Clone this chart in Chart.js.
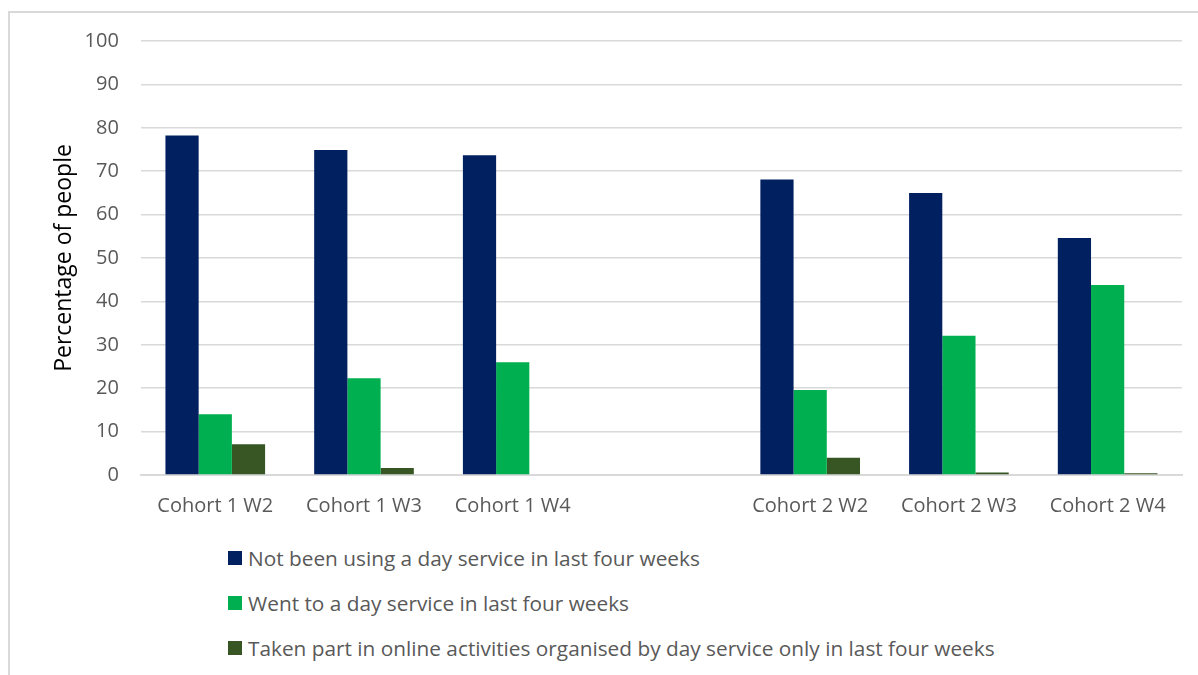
<!DOCTYPE html>
<html>
<head>
<meta charset="utf-8">
<script src="https://cdn.jsdelivr.net/npm/chart.js@4.4.1/dist/chart.umd.min.js"></script>
<style>
  html, body { margin: 0; padding: 0; background: #fff; }
  #wrap { position: relative; width: 1198px; height: 675px; overflow: hidden; }
  #frame { position: absolute; left: 8px; top: 11px; right: 0; bottom: 0;
    border-left: 2px solid #d9d9d9; border-top: 2px solid #d9d9d9; }
  #cv { position: absolute; left: 0; top: 0; }
  #legend { position: absolute; left: 228px; top: 543px; font-family: "Open Sans", sans-serif;
    font-size: 20.8px; color: #595959; }
  #legend .item { display: flex; align-items: center; height: 30px; margin-bottom: 15px; }
  #legend .box { width: 14px; height: 14px; margin-right: 6px; }
</style>
</head>
<body>
<div id="wrap">
  <div id="frame"></div>
  <canvas id="cv" width="1198" height="537"></canvas>
  <div id="legend"></div>
</div>
<script>
// categories (empty slot separates the two cohorts)
const categories = ['Cohort 1 W2', 'Cohort 1 W3', 'Cohort 1 W4', '', 'Cohort 2 W2', 'Cohort 2 W3', 'Cohort 2 W4'];

// series values, percentage of people
const notUsing = [78.2, 74.9, 73.7, null, 68.1, 65.0, 54.6];
const wentTo = [14.0, 22.3, 26.0, null, 19.6, 32.1, 43.8];
const onlineOnly = [7.1, 1.6, 0.2, null, 4.0, 0.6, 0.4];

const yTicks = [0, 10, 20, 30, 40, 50, 60, 70, 80, 90, 100];

const FONT = '"Open Sans", sans-serif';
const GREY = '#595959';

const chart = new Chart(document.getElementById('cv'), {
  type: 'bar',
  data: {
    labels: categories,
    datasets: [
      {
        label: 'Not been using a day service in last four weeks',
        data: notUsing,
        backgroundColor: '#002060',
      },
      {
        label: 'Went to a day service in last four weeks',
        data: wentTo,
        backgroundColor: '#00b050',
      },
      {
        label: 'Taken part in online activities organised by day service only in last four weeks',
        data: onlineOnly,
        backgroundColor: '#375623',
      },
    ],
  },
  options: {
    responsive: false,
    animation: false,
    layout: {
      padding: { top: 41, bottom: 8, left: 51, right: 16 },
    },
    datasets: {
      bar: {
        categoryPercentage: 0.67,
        barPercentage: 1.0,
        borderWidth: 0,
      },
    },
    scales: {
      y: {
        min: 0,
        max: 100,
        afterBuildTicks: (axis) => { axis.ticks = yTicks.map(v => ({ value: v })); },
        border: { display: false },
        grid: { color: '#d9d9d9', lineWidth: 1.5, drawTicks: false },
        ticks: { color: GREY, font: { family: FONT, size: 20 }, padding: 22 },
        title: {
          display: true,
          text: 'Percentage of people',
          color: '#000',
          font: { family: FONT, size: 23 },
          padding: { top: 0, bottom: -16 },
        },
      },
      x: {
        border: { color: '#d9d9d9', width: 2 },
        grid: { display: false },
        ticks: { color: GREY, font: { family: FONT, size: 20 }, padding: 11, maxRotation: 0, autoSkip: false },
      },
    },
    plugins: {
      legend: { display: false },
      tooltip: { enabled: false },
    },
  },
});

// HTML legend, one entry per row, built from the datasets
const legendEl = document.getElementById('legend');
chart.data.datasets.forEach((ds) => {
  const item = document.createElement('div');
  item.className = 'item';
  const box = document.createElement('span');
  box.className = 'box';
  box.style.background = ds.backgroundColor;
  const txt = document.createElement('span');
  txt.textContent = ds.label;
  item.appendChild(box);
  item.appendChild(txt);
  legendEl.appendChild(item);
});
</script>
</body>
</html>
